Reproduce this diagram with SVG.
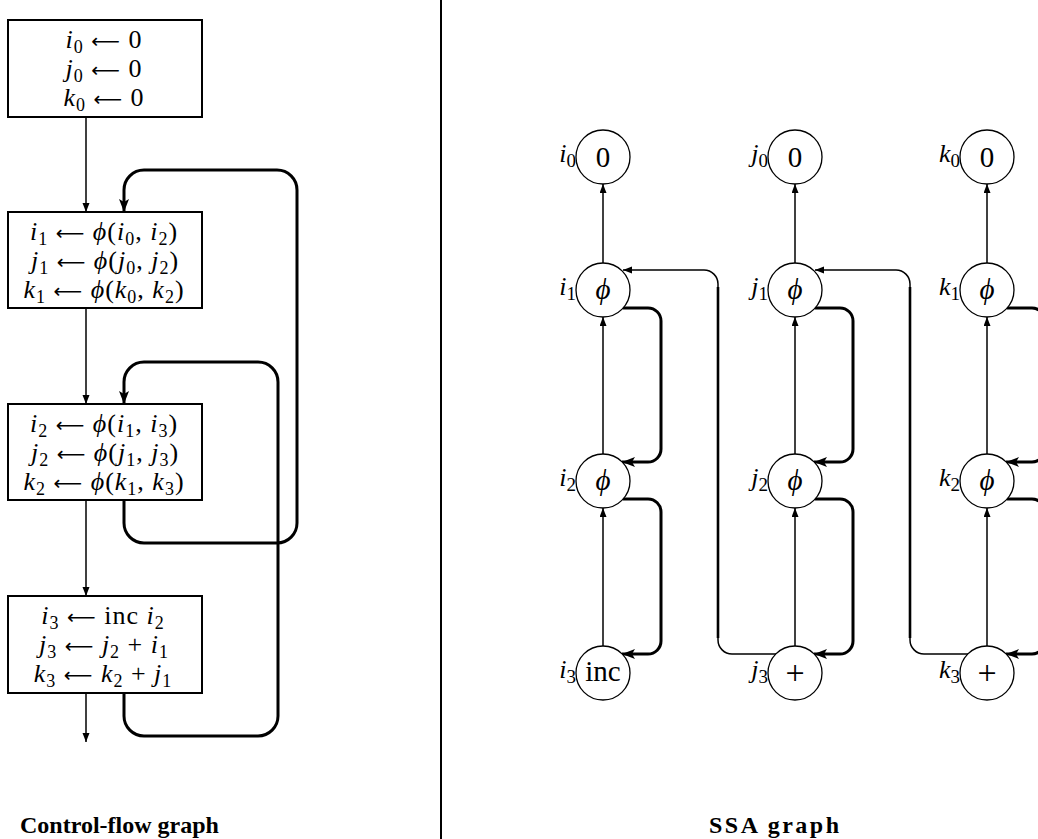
<svg xmlns="http://www.w3.org/2000/svg" width="1038" height="839" viewBox="0 0 1038 839">
<style>
text{font-family:"Liberation Serif","DejaVu Serif",serif;fill:#000}
.bt{font-size:26px;letter-spacing:1px}
.it{font-style:italic}
.sb{font-size:18px}
.ar{font-family:"DejaVu Sans",sans-serif;font-size:20px}
.ct{font-size:29px}
.pl{font-size:34px}
.lb{font-size:26px}
.lb .sb{font-size:19px}
.cap{font-size:24px;font-weight:bold}
.box{fill:#fff;stroke:#000;stroke-width:2}
.nd{fill:#fff;stroke:#000;stroke-width:1.3}
.thin{fill:none;stroke:#000;stroke-width:1.5}
.thick{fill:none;stroke:#000;stroke-width:3}
.med{fill:none;stroke:#000;stroke-width:2.6}
</style>
<defs>
<marker id="ah" markerUnits="userSpaceOnUse" markerWidth="10" markerHeight="8" refX="9" refY="3.5" orient="auto"><path d="M0,0 L9,3.5 L0,7 Z" fill="#000"/></marker>
<marker id="ahT" markerUnits="userSpaceOnUse" markerWidth="14" markerHeight="11" refX="13" refY="5" orient="auto"><path d="M0,0 L13,5 L0,10 L3,5 Z" fill="#000"/></marker>
</defs>

<line x1="441" y1="0" x2="441" y2="839" stroke="#000" stroke-width="2"/>

<g id="connectors">
<line class="thin" x1="86" y1="117" x2="86" y2="212" marker-end="url(#ah)"/>
<line class="thin" x1="86" y1="308" x2="86" y2="404" marker-end="url(#ah)"/>
<line class="thin" x1="86" y1="500" x2="86" y2="596" marker-end="url(#ah)"/>
<line class="thin" x1="86" y1="693" x2="86" y2="742" marker-end="url(#ah)"/>
<path class="thick" d="M124,500 V523 A20,20 0 0 0 144,543 H277 A20,20 0 0 0 297,523 V190 A20,20 0 0 0 277,170 H144 A20,20 0 0 0 124,190 V212" marker-end="url(#ahT)"/>
<path class="thick" d="M124,693 V716 A20,20 0 0 0 144,736 H258 A20,20 0 0 0 278,716 V382 A20,20 0 0 0 258,362 H144 A20,20 0 0 0 124,382 V404" marker-end="url(#ahT)"/>

<line class="thin" x1="603" y1="263" x2="603" y2="184" marker-end="url(#ah)"/>
<line class="thin" x1="603" y1="454" x2="603" y2="317" marker-end="url(#ah)"/>
<line class="thin" x1="603" y1="646" x2="603" y2="508" marker-end="url(#ah)"/>
<line class="thin" x1="795" y1="263" x2="795" y2="184" marker-end="url(#ah)"/>
<line class="thin" x1="795" y1="454" x2="795" y2="317" marker-end="url(#ah)"/>
<line class="thin" x1="795" y1="646" x2="795" y2="508" marker-end="url(#ah)"/>
<line class="thin" x1="987" y1="263" x2="987" y2="184" marker-end="url(#ah)"/>
<line class="thin" x1="987" y1="454" x2="987" y2="317" marker-end="url(#ah)"/>
<line class="thin" x1="987" y1="646" x2="987" y2="508" marker-end="url(#ah)"/>

<path class="thick" d="M623,308 H648 A13,13 0 0 1 661,321 V449 A13,13 0 0 1 648,462 H622" marker-end="url(#ahT)"/>
<path class="thick" d="M623,499 H648 A13,13 0 0 1 661,512 V641 A13,13 0 0 1 648,654 H622" marker-end="url(#ahT)"/>
<path class="thick" d="M815,308 H840 A13,13 0 0 1 853,321 V449 A13,13 0 0 1 840,462 H814" marker-end="url(#ahT)"/>
<path class="thick" d="M815,499 H840 A13,13 0 0 1 853,512 V641 A13,13 0 0 1 840,654 H814" marker-end="url(#ahT)"/>
<path class="thick" d="M1007,308 H1032 A13,13 0 0 1 1045,321 V449 A13,13 0 0 1 1032,462 H1006" marker-end="url(#ahT)"/>
<path class="thick" d="M1007,499 H1032 A13,13 0 0 1 1045,512 V641 A13,13 0 0 1 1032,654 H1006" marker-end="url(#ahT)"/>

<path class="thin" d="M776,654 H732 A14,14 0 0 1 718,640 V284 A14,14 0 0 0 704,270 H623" marker-end="url(#ah)"/>
<line class="med" x1="718" y1="287" x2="718" y2="638"/>
<path class="thin" d="M968,654 H924 A14,14 0 0 1 910,640 V284 A14,14 0 0 0 896,270 H815" marker-end="url(#ah)"/>
<line class="med" x1="910" y1="287" x2="910" y2="638"/>
</g>

<g id="b0"><rect class="box" x="8" y="20" width="194" height="97"/>
<text class="bt" x="104" y="48" text-anchor="middle"><tspan class="it">i</tspan><tspan class="sb" dy="5">0</tspan><tspan dy="-5"> </tspan><tspan class="ar">⟵</tspan> 0</text>
<text class="bt" x="104" y="77" text-anchor="middle"><tspan class="it">j</tspan><tspan class="sb" dy="5">0</tspan><tspan dy="-5"> </tspan><tspan class="ar">⟵</tspan> 0</text>
<text class="bt" x="104" y="106" text-anchor="middle"><tspan class="it">k</tspan><tspan class="sb" dy="5">0</tspan><tspan dy="-5"> </tspan><tspan class="ar">⟵</tspan> 0</text>
</g>
<g id="b1"><rect class="box" x="8" y="212" width="194" height="96"/>
<text class="bt" x="104" y="240" text-anchor="middle"><tspan class="it">i</tspan><tspan class="sb" dy="5">1</tspan><tspan dy="-5"> </tspan><tspan class="ar">⟵</tspan> <tspan class="it">ϕ</tspan>(<tspan class="it">i</tspan><tspan class="sb" dy="5">0</tspan><tspan dy="-5">, </tspan><tspan class="it">i</tspan><tspan class="sb" dy="5">2</tspan><tspan dy="-5">)</tspan></text>
<text class="bt" x="105" y="269" text-anchor="middle"><tspan class="it">j</tspan><tspan class="sb" dy="5">1</tspan><tspan dy="-5"> </tspan><tspan class="ar">⟵</tspan> <tspan class="it">ϕ</tspan>(<tspan class="it">j</tspan><tspan class="sb" dy="5">0</tspan><tspan dy="-5">, </tspan><tspan class="it">j</tspan><tspan class="sb" dy="5">2</tspan><tspan dy="-5">)</tspan></text>
<text class="bt" x="104" y="298" text-anchor="middle"><tspan class="it">k</tspan><tspan class="sb" dy="5">1</tspan><tspan dy="-5"> </tspan><tspan class="ar">⟵</tspan> <tspan class="it">ϕ</tspan>(<tspan class="it">k</tspan><tspan class="sb" dy="5">0</tspan><tspan dy="-5">, </tspan><tspan class="it">k</tspan><tspan class="sb" dy="5">2</tspan><tspan dy="-5">)</tspan></text>
</g>
<g id="b2"><rect class="box" x="8" y="404" width="194" height="96"/>
<text class="bt" x="104" y="432" text-anchor="middle"><tspan class="it">i</tspan><tspan class="sb" dy="5">2</tspan><tspan dy="-5"> </tspan><tspan class="ar">⟵</tspan> <tspan class="it">ϕ</tspan>(<tspan class="it">i</tspan><tspan class="sb" dy="5">1</tspan><tspan dy="-5">, </tspan><tspan class="it">i</tspan><tspan class="sb" dy="5">3</tspan><tspan dy="-5">)</tspan></text>
<text class="bt" x="105" y="461" text-anchor="middle"><tspan class="it">j</tspan><tspan class="sb" dy="5">2</tspan><tspan dy="-5"> </tspan><tspan class="ar">⟵</tspan> <tspan class="it">ϕ</tspan>(<tspan class="it">j</tspan><tspan class="sb" dy="5">1</tspan><tspan dy="-5">, </tspan><tspan class="it">j</tspan><tspan class="sb" dy="5">3</tspan><tspan dy="-5">)</tspan></text>
<text class="bt" x="104" y="490" text-anchor="middle"><tspan class="it">k</tspan><tspan class="sb" dy="5">2</tspan><tspan dy="-5"> </tspan><tspan class="ar">⟵</tspan> <tspan class="it">ϕ</tspan>(<tspan class="it">k</tspan><tspan class="sb" dy="5">1</tspan><tspan dy="-5">, </tspan><tspan class="it">k</tspan><tspan class="sb" dy="5">3</tspan><tspan dy="-5">)</tspan></text>
</g>
<g id="b3"><rect class="box" x="8" y="596" width="194" height="97"/>
<text class="bt" x="103" y="624" text-anchor="middle"><tspan class="it">i</tspan><tspan class="sb" dy="5">3</tspan><tspan dy="-5"> </tspan><tspan class="ar">⟵</tspan> inc <tspan class="it">i</tspan><tspan class="sb" dy="5">2</tspan></text>
<text class="bt" x="104" y="653" text-anchor="middle"><tspan class="it">j</tspan><tspan class="sb" dy="5">3</tspan><tspan dy="-5"> </tspan><tspan class="ar">⟵</tspan> <tspan class="it">j</tspan><tspan class="sb" dy="5">2</tspan><tspan dy="-5"> + </tspan><tspan class="it">i</tspan><tspan class="sb" dy="5">1</tspan></text>
<text class="bt" x="103" y="682" text-anchor="middle"><tspan class="it">k</tspan><tspan class="sb" dy="5">3</tspan><tspan dy="-5"> </tspan><tspan class="ar">⟵</tspan> <tspan class="it">k</tspan><tspan class="sb" dy="5">2</tspan><tspan dy="-5"> + </tspan><tspan class="it">j</tspan><tspan class="sb" dy="5">1</tspan></text>
</g>

<g id="i0"><circle class="nd" cx="603" cy="157" r="27"/><text class="ct" x="603" y="167" text-anchor="middle">0</text><text class="lb" x="576" y="162" text-anchor="end"><tspan class="it">i</tspan><tspan class="sb" dy="5">0</tspan></text></g>
<g id="i1"><circle class="nd" cx="603" cy="290" r="27"/><text class="ct it" x="603" y="299" text-anchor="middle">ϕ</text><text class="lb" x="576" y="295" text-anchor="end"><tspan class="it">i</tspan><tspan class="sb" dy="5">1</tspan></text></g>
<g id="i2"><circle class="nd" cx="603" cy="481" r="27"/><text class="ct it" x="603" y="490" text-anchor="middle">ϕ</text><text class="lb" x="576" y="486" text-anchor="end"><tspan class="it">i</tspan><tspan class="sb" dy="5">2</tspan></text></g>
<g id="i3"><circle class="nd" cx="603" cy="673" r="27"/><text class="ct" x="603" y="681" text-anchor="middle" font-size="24">inc</text><text class="lb" x="576" y="678" text-anchor="end"><tspan class="it">i</tspan><tspan class="sb" dy="5">3</tspan></text></g>

<g id="j0"><circle class="nd" cx="795" cy="157" r="27"/><text class="ct" x="795" y="167" text-anchor="middle">0</text><text class="lb" x="768" y="162" text-anchor="end"><tspan class="it">j</tspan><tspan class="sb" dy="5">0</tspan></text></g>
<g id="j1"><circle class="nd" cx="795" cy="290" r="27"/><text class="ct it" x="795" y="299" text-anchor="middle">ϕ</text><text class="lb" x="768" y="295" text-anchor="end"><tspan class="it">j</tspan><tspan class="sb" dy="5">1</tspan></text></g>
<g id="j2"><circle class="nd" cx="795" cy="481" r="27"/><text class="ct it" x="795" y="490" text-anchor="middle">ϕ</text><text class="lb" x="768" y="486" text-anchor="end"><tspan class="it">j</tspan><tspan class="sb" dy="5">2</tspan></text></g>
<g id="j3"><circle class="nd" cx="795" cy="673" r="27"/><text class="pl" x="795" y="684" text-anchor="middle">+</text><text class="lb" x="768" y="678" text-anchor="end"><tspan class="it">j</tspan><tspan class="sb" dy="5">3</tspan></text></g>

<g id="k0"><circle class="nd" cx="987" cy="157" r="27"/><text class="ct" x="987" y="167" text-anchor="middle">0</text><text class="lb" x="960" y="162" text-anchor="end"><tspan class="it">k</tspan><tspan class="sb" dy="5">0</tspan></text></g>
<g id="k1"><circle class="nd" cx="987" cy="290" r="27"/><text class="ct it" x="987" y="299" text-anchor="middle">ϕ</text><text class="lb" x="960" y="295" text-anchor="end"><tspan class="it">k</tspan><tspan class="sb" dy="5">1</tspan></text></g>
<g id="k2"><circle class="nd" cx="987" cy="481" r="27"/><text class="ct it" x="987" y="490" text-anchor="middle">ϕ</text><text class="lb" x="960" y="486" text-anchor="end"><tspan class="it">k</tspan><tspan class="sb" dy="5">2</tspan></text></g>
<g id="k3"><circle class="nd" cx="987" cy="673" r="27"/><text class="pl" x="987" y="684" text-anchor="middle">+</text><text class="lb" x="960" y="678" text-anchor="end"><tspan class="it">k</tspan><tspan class="sb" dy="5">3</tspan></text></g>

<text class="cap" x="20" y="833">Control-flow graph</text>
<text class="cap" x="709" y="833" textLength="130">SSA graph</text>
</svg>
